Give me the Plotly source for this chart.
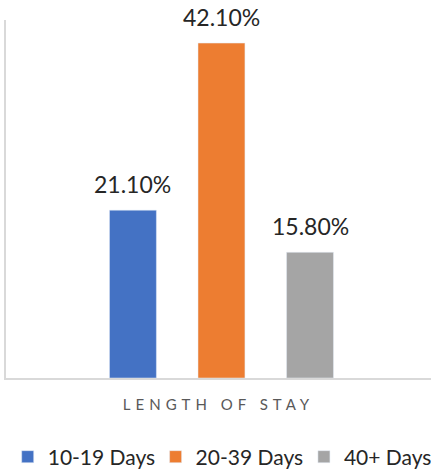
import plotly.graph_objects as go

category = ["LENGTH OF STAY"]
series_names = ["10-19 Days", "20-39 Days", "40+ Days"]
series_values = [21.1, 42.1, 15.8]
series_colors = ["#4472C4", "#ED7D31", "#A5A5A5"]
legend_ids = ["legend", "legend2", "legend3"]
legend_x = [0.004, 0.352, 0.701]

FONT = "Lato"
BARGAP = 0.375
BARGROUPGAP = 0.47
n = len(series_names)
slot = (1 - BARGAP) / n

fig = go.Figure()
for i, (name, val, col, lg) in enumerate(zip(series_names, series_values, series_colors, legend_ids)):
    fig.add_trace(go.Bar(
        x=category, y=[val], name=name, marker_color=col, legend=lg,
    ))
    fig.add_annotation(
        x=(i - (n - 1) / 2) * slot, y=val, xref="x", yref="y",
        text=f"{val:.2f}%", showarrow=False, yanchor="bottom", yshift=10,
        font=dict(size=23, color="#262626", family=FONT),
    )

legend_common = dict(orientation="h", yanchor="middle", y=-0.2207, xanchor="left",
                     font=dict(size=21, color="#262626", family=FONT),
                     itemwidth=30, bgcolor="rgba(0,0,0,0)")
layout_legends = {lg: dict(legend_common, x=lx) for lg, lx in zip(legend_ids, legend_x)}

fig.update_layout(
    width=431, height=472,
    margin=dict(l=6, r=0, t=20, b=94, autoexpand=False),
    paper_bgcolor="white", plot_bgcolor="white",
    barmode="group", bargap=BARGAP, bargroupgap=BARGROUPGAP,
    showlegend=True,
    xaxis=dict(showticklabels=False, ticks="", showline=True, linecolor="#D9D9D9", linewidth=2,
               automargin=False, range=[-0.507, 0.493],
               title=dict(text='<span style="letter-spacing:5px">LENGTH OF STAY</span>', standoff=20,
                          font=dict(size=15, color="#595959", family=FONT))),
    yaxis=dict(range=[0, 45], showticklabels=False, showgrid=False, zeroline=False,
               automargin=False,
               ticks="", showline=True, linecolor="#D9D9D9", linewidth=2),
    **layout_legends,
)

fig.write_html("out.html", config={"displayModeBar": False},
               post_script="document.body.style.margin='0';")
